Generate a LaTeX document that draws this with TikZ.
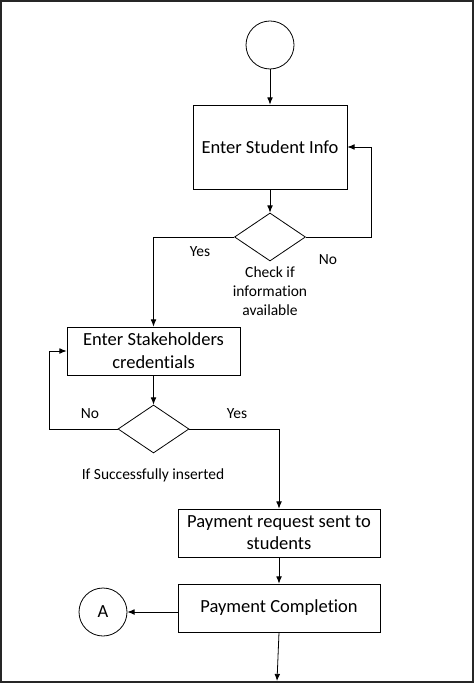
\documentclass[tikz,border=0pt]{standalone}
\usepackage{fontspec}
\setmainfont{Carlito}[Ligatures={NoCommon}]
\usetikzlibrary{arrows.meta,shapes.geometric}

\begin{document}
\begin{tikzpicture}[x=1pt, y=-1pt, line width=0.8pt,
    stepbox/.style={draw, rectangle, align=center, inner sep=0pt,
      font=\fontsize{18.5}{23}\selectfont},
    decision/.style={draw, diamond, inner sep=0pt, minimum width=71pt, minimum height=48pt},
    term/.style={draw, circle, inner sep=0pt, minimum size=48pt,
      font=\fontsize{18.5}{23}\selectfont},
    lbl/.style={align=center, inner sep=0pt, font=\fontsize{15.5}{19}\selectfont},
    arr/.style={-{Latex[length=2.5mm,width=2mm]}}]
      \useasboundingbox (0, 0) rectangle (475, 684);
      \draw[line width=1.4pt, black!85] (1, 1) rectangle (473, 682);

      % upper part
      \node[term] (start) at (270, 45) {};
      \node[stepbox, minimum width=154pt, minimum height=84pt] (info) at (270, 147) {Enter Student Info};
      \node[decision] (check) at (270, 237) {};
      \node[lbl] (checktxt) at (270, 291) {Check if\\information\\available};
      \node[lbl] (yesA) at (200, 252) {Yes};
      \node[lbl] (noA) at (328, 260) {No};

      % middle part
      \node[stepbox, minimum width=173pt, minimum height=48pt] (creds) at (153.5, 351) {Enter Stakeholders\\credentials};
      \node[decision] (inserted) at (153.5, 429) {};
      \node[lbl] (insertedtxt) at (153, 475) {If Successfully inserted};
      \node[lbl] (noB) at (90, 414) {No};
      \node[lbl] (yesB) at (237, 414) {Yes};

      % lower part
      \node[stepbox, minimum width=202pt, minimum height=48pt, font=\fontsize{18.5}{22}\selectfont] (request) at (279, 533) {Payment request sent to\\students};
      \node[stepbox, minimum width=202pt, minimum height=48pt] (payment) at (279, 608) {Payment Completion};
      \node[term] (conA) at (103, 612) {A};
      \coordinate (out) at (277, 681);

      \draw[arr] (start) -- (info);
      \draw[arr] (info) -- (check);
      \draw[arr] (check.east) -- ++(65, 0) |- (info.east);
      \draw[arr] (check.west) -| (creds.north);
      \draw[arr] (creds) -- (inserted);
      \draw[arr] (inserted.west) -- ++(-68, 0) |- (creds.west);
      \draw[arr] (inserted.east) -| (request.north);
      \draw[arr] (request) -- (payment);
      \draw[arr] (conA.east -| payment.west) -- (conA.east);
      \draw[arr] (payment.south) -- (out);
    \end{tikzpicture}
\end{document}
